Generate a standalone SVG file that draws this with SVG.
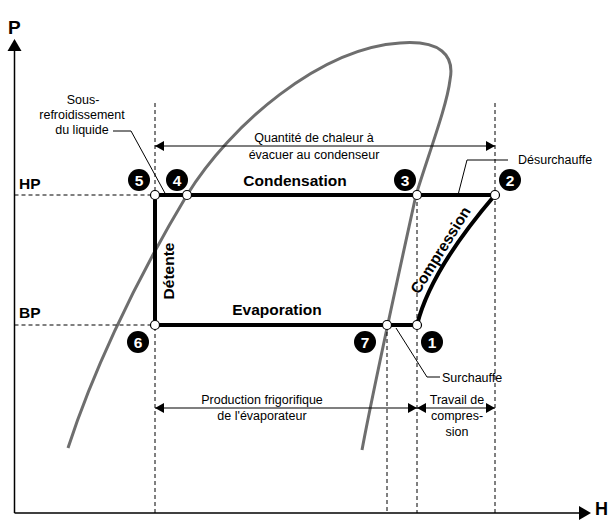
<svg xmlns="http://www.w3.org/2000/svg" width="613" height="521" viewBox="0 0 613 521">
  <defs>
    <marker id="ah" viewBox="0 0 9 10" refX="9" refY="5" markerWidth="9" markerHeight="10" markerUnits="userSpaceOnUse" orient="auto-start-reverse">
      <path d="M0,0 L9,5 L0,10 z" fill="#000"/>
    </marker>
  </defs>
  <style>
    text { font-family: "Liberation Sans", Arial, Helvetica, sans-serif; fill: #000; }
    .sm { font-size: 12.5px; }
    .lbl { font-size: 15.5px; font-weight: bold; }
    .ax { font-size: 19px; font-weight: bold; }
    .num { font-size: 15.5px; font-weight: bold; fill: #fff; text-anchor: middle; }
    .dash { stroke: #000; stroke-width: 1; stroke-dasharray: 4 3; fill: none; }
    .thin { stroke: #000; stroke-width: 1; fill: none; }
    .arr { stroke: #000; stroke-width: 1.2; fill: none; marker-start: url(#ah); marker-end: url(#ah); }
    .cycle { stroke: #000; stroke-width: 4; fill: none; stroke-linejoin: miter; }
    .pt { fill: #fff; stroke: #000; stroke-width: 1.2; }
    .badge { fill: #000; }
  </style>

  <rect width="613" height="521" fill="#fff"/>

  <!-- axes -->
  <g id="axes">
    <line x1="14.5" y1="513" x2="14.5" y2="50" stroke="#000" stroke-width="1.5"/>
    <polygon points="14.5,39 7.5,51 21.5,51" fill="#000"/>
    <line x1="14.5" y1="513" x2="580" y2="513" stroke="#000" stroke-width="1.5"/>
    <polygon points="591,513 579,506 579,520" fill="#000"/>
    <text class="ax" x="8" y="34">P</text>
    <text class="ax" x="595" y="515" style="font-size:18px">H</text>
    <text class="lbl" x="19" y="189">HP</text>
    <text class="lbl" x="19" y="318">BP</text>
  </g>

  <!-- saturation dome -->
  <path id="dome" d="M68,448 C90,380 130,290 187,195 C230,125 320,48 400,43 C440,40 455,55 450,80 C447,105 430,150 416,195 C404,250 375,380 362,450" fill="none" stroke="#6e6e6e" stroke-width="3"/>

  <!-- dashed guides -->
  <g id="guides">
    <path class="dash" d="M14.5,195 H155"/>
    <path class="dash" d="M14.5,325 H155"/>
    <path class="dash" d="M155,103 V513"/>
    <path class="dash" d="M495,103 V513"/>
    <path class="dash" d="M417,195 V513"/>
    <path class="dash" d="M387,325 V513"/>
  </g>

  <!-- connectors -->
  <g id="connectors">
    <path class="cycle" d="M495,195 H155 V325 H417"/>
    <path class="cycle" d="M417,325 C428,280 465,230 495,195"/>
    <path class="arr" d="M155,146 H495"/>
    <path class="arr" d="M155,408 H417"/>
    <path class="arr" d="M417,408 H495"/>
    <path class="thin" d="M113,131 H131 L166,195"/>
    <path class="thin" d="M458,195 L467,160 H508"/>
    <path class="thin" d="M396,328 L427,377 H440"/>
  </g>

  <!-- labels -->
  <g id="labels">
    <text class="lbl" x="295" y="186" text-anchor="middle">Condensation</text>
    <text class="lbl" x="277" y="315" text-anchor="middle">Evaporation</text>
    <text class="lbl" transform="translate(174,271) rotate(-90)" text-anchor="middle">Détente</text>
    <text class="lbl" transform="translate(445,253) rotate(-58)" text-anchor="middle">Compression</text>
    <text class="sm" x="314" y="142" text-anchor="middle">Quantité de chaleur à</text>
    <text class="sm" x="314" y="159" text-anchor="middle">évacuer au condenseur</text>
    <text class="sm" x="83" y="104" text-anchor="middle">Sous-</text>
    <text class="sm" x="82" y="119" text-anchor="middle">refroidissement</text>
    <text class="sm" x="82" y="134" text-anchor="middle">du liquide</text>
    <text class="sm" x="518" y="164">Désurchauffe</text>
    <text class="sm" x="442" y="382">Surchauffe</text>
    <text class="sm" x="262" y="404" text-anchor="middle">Production frigorifique</text>
    <text class="sm" x="262" y="420" text-anchor="middle">de l'évaporateur</text>
    <text class="sm" x="457" y="404" text-anchor="middle">Travail de</text>
    <text class="sm" x="457" y="420" text-anchor="middle">compres-</text>
    <text class="sm" x="457" y="436" text-anchor="middle">sion</text>
  </g>

  <!-- nodes -->
  <g id="node1">
    <circle class="pt" cx="417" cy="325" r="4.5"/>
    <circle class="badge" cx="432" cy="342" r="11"/>
    <text class="num" x="432" y="347.5">1</text>
  </g>
  <g id="node2">
    <circle class="pt" cx="495" cy="195" r="4.5"/>
    <circle class="badge" cx="510" cy="180" r="11"/>
    <text class="num" x="510" y="185.5">2</text>
  </g>
  <g id="node3">
    <circle class="pt" cx="417" cy="195" r="4.5"/>
    <circle class="badge" cx="405" cy="180" r="11"/>
    <text class="num" x="405" y="185.5">3</text>
  </g>
  <g id="node4">
    <circle class="pt" cx="187" cy="195" r="4.5"/>
    <circle class="badge" cx="177" cy="180" r="11"/>
    <text class="num" x="177" y="185.5">4</text>
  </g>
  <g id="node5">
    <circle class="pt" cx="155" cy="195" r="4.5"/>
    <circle class="badge" cx="139" cy="180" r="11"/>
    <text class="num" x="139" y="185.5">5</text>
  </g>
  <g id="node6">
    <circle class="pt" cx="155" cy="325" r="4.5"/>
    <circle class="badge" cx="138" cy="342" r="11"/>
    <text class="num" x="138" y="347.5">6</text>
  </g>
  <g id="node7">
    <circle class="pt" cx="387" cy="325" r="4.5"/>
    <circle class="badge" cx="365" cy="342" r="11"/>
    <text class="num" x="365" y="347.5">7</text>
  </g>
</svg>
